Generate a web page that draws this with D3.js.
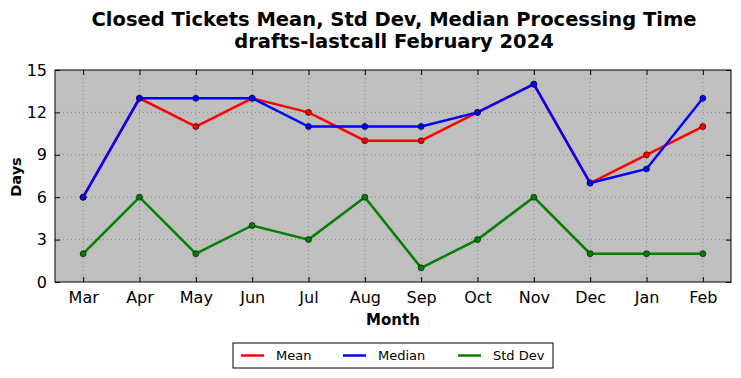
<!DOCTYPE html>
<html>
<head>
<meta charset="utf-8">
<script src="https://d3js.org/d3.v7.min.js"></script>
<style>
  body { margin: 0; background: #fff; }
  text { font-family: "DejaVu Sans", sans-serif; }
</style>
</head>
<body>
<div id="chart"></div>
<script>
var months = ["Mar", "Apr", "May", "Jun", "Jul", "Aug", "Sep", "Oct", "Nov", "Dec", "Jan", "Feb"];
var meanVals = [6, 13, 11, 13, 12, 10, 10, 12, 14, 7, 9, 11];
var medianVals = [6, 13, 13, 13, 11, 11, 11, 12, 14, 7, 8, 13];
var stdVals = [2, 6, 2, 4, 3, 6, 1, 3, 6, 2, 2, 2];
var yTicks = [0, 3, 6, 9, 12, 15];

var series = [
  { name: "Mean", values: meanVals, color: "#ff0000" },
  { name: "Median", values: medianVals, color: "#0000ff" },
  { name: "Std Dev", values: stdVals, color: "#008000" }
];

var W = 741, H = 378;
var margin = { top: 70, right: 10, bottom: 96, left: 55 };
var width = W - margin.left - margin.right,
    height = H - margin.top - margin.bottom;

var svg = d3.select("#chart").append("svg")
  .attr("width", W).attr("height", H);

svg.append("text").attr("x", 394).attr("y", 26)
  .attr("text-anchor", "middle").attr("font-size", 19.5).attr("font-weight", "bold")
  .text("Closed Tickets Mean, Std Dev, Median Processing Time");
svg.append("text").attr("x", 394).attr("y", 48)
  .attr("text-anchor", "middle").attr("font-size", 19.5).attr("font-weight", "bold")
  .text("drafts-lastcall February 2024");

var g = svg.append("g").attr("transform", "translate(" + margin.left + "," + margin.top + ")");

var x = d3.scalePoint().domain(months).range([0, width]).padding(0.5);
var y = d3.scaleLinear().domain([0, 15]).range([height, 0]);

g.append("rect").attr("width", width).attr("height", height).attr("fill", "#bfbfbf");

// grid
g.selectAll(".vg").data(months).enter().append("line")
  .attr("x1", function(d) { return x(d); }).attr("x2", function(d) { return x(d); })
  .attr("y1", 0).attr("y2", height)
  .attr("stroke", "#777").attr("stroke-width", 0.8).attr("stroke-dasharray", "1,3");
g.selectAll(".hg").data(yTicks.slice(1, -1)).enter().append("line")
  .attr("x1", 0).attr("x2", width)
  .attr("y1", function(d) { return y(d); }).attr("y2", function(d) { return y(d); })
  .attr("stroke", "#777").attr("stroke-width", 0.8).attr("stroke-dasharray", "1,3");

// axes, ticks inward
var xb = g.append("g").attr("transform", "translate(0," + height + ")")
  .call(d3.axisBottom(x).tickSizeInner(-5).tickSizeOuter(0).tickPadding(10));
var xt = g.append("g").call(d3.axisTop(x).tickSizeInner(-5).tickSizeOuter(0).tickFormat(""));
var yl = g.append("g").call(d3.axisLeft(y).tickValues(yTicks).tickSizeInner(-5).tickSizeOuter(0).tickPadding(8));
var yr = g.append("g").attr("transform", "translate(" + width + ",0)")
  .call(d3.axisRight(y).tickValues(yTicks).tickSizeInner(-5).tickSizeOuter(0).tickFormat(""));
[xb, xt, yl, yr].forEach(function(a) {
  a.select(".domain").remove();
  a.selectAll("line").attr("stroke", "#000");
  a.selectAll("text").attr("font-size", 16).attr("fill", "#000")
    .style("font-family", "DejaVu Sans, sans-serif");
});

var line = d3.line()
  .x(function(d, i) { return x(months[i]); })
  .y(function(d) { return y(d); });

series.forEach(function(s) {
  g.append("path").datum(s.values).attr("d", line)
    .attr("fill", "none").attr("stroke", s.color).attr("stroke-width", 2.5);
  g.selectAll(null).data(s.values).enter().append("circle")
    .attr("cx", function(d, i) { return x(months[i]); })
    .attr("cy", function(d) { return y(d); })
    .attr("r", 3).attr("fill", s.color).attr("stroke", "#000").attr("stroke-width", 0.6);
});

g.append("rect").attr("width", width).attr("height", height)
  .attr("fill", "none").attr("stroke", "#000").attr("stroke-width", 1);

svg.append("text").attr("x", margin.left + width / 2).attr("y", 325)
  .attr("text-anchor", "middle").attr("font-size", 15).attr("font-weight", "bold").text("Month");
svg.append("text").attr("transform", "translate(21," + (margin.top + height / 2 + 1) + ") rotate(-90)")
  .attr("text-anchor", "middle").attr("font-size", 14.5).attr("font-weight", "bold").text("Days");

// legend
var lg = svg.append("g").attr("transform", "translate(233,343)");
lg.append("rect").attr("width", 320).attr("height", 25)
  .attr("fill", "#fff").attr("stroke", "#000").attr("stroke-width", 1);
var offs = [8, 110, 225];
series.forEach(function(s, i) {
  lg.append("line").attr("x1", offs[i]).attr("x2", offs[i] + 23)
    .attr("y1", 12.5).attr("y2", 12.5).attr("stroke", s.color).attr("stroke-width", 2.5);
  lg.append("text").attr("x", offs[i] + 35).attr("y", 17)
    .attr("font-size", 13).text(s.name);
});
</script>
</body>
</html>
